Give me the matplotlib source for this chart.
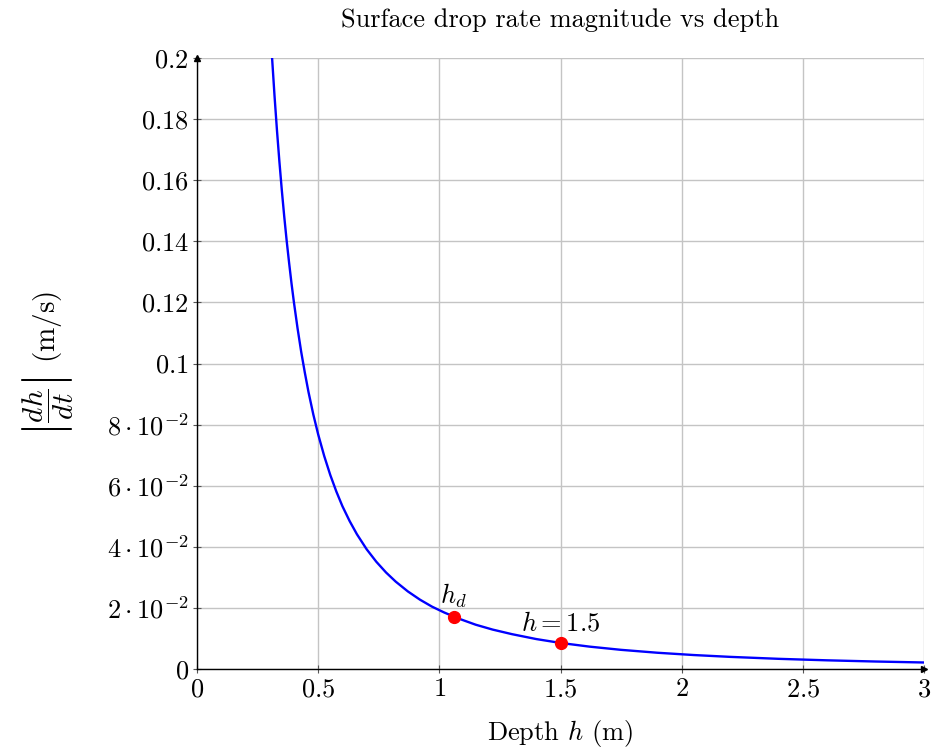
import matplotlib
matplotlib.use("Agg")
import matplotlib.pyplot as plt

plt.rcParams['font.family'] = 'serif'
plt.rcParams['font.serif'] = ['cmr10', 'DejaVu Serif']
plt.rcParams['mathtext.fontset'] = 'cm'
plt.rcParams['axes.unicode_minus'] = False

# curve readings (depth h, |dh/dt|)
depth = [0.300, 0.310, 0.320, 0.330, 0.340, 0.350, 0.360, 0.370, 0.380, 0.390,
         0.400, 0.415, 0.430, 0.445, 0.460, 0.480, 0.500, 0.525, 0.550, 0.575,
         0.600, 0.630, 0.660, 0.700, 0.740, 0.780, 0.820, 0.870, 0.920, 0.970,
         1.020, 1.080, 1.150, 1.220, 1.300, 1.400, 1.500, 1.620, 1.750, 1.900,
         2.050, 2.200, 2.400, 2.600, 2.800, 3.000]
rate = [0.2133, 0.1998, 0.1875, 0.1763, 0.1661, 0.1567, 0.1481, 0.1402,
        0.1330, 0.1262, 0.1200, 0.1115, 0.1038, 0.0970, 0.0907, 0.0833,
        0.0768, 0.0697, 0.0635, 0.0581, 0.0533, 0.0484, 0.0441, 0.0392,
        0.0351, 0.0316, 0.0286, 0.0254, 0.0227, 0.0204, 0.0185, 0.0165,
        0.0145, 0.0129, 0.0114, 0.0098, 0.00853, 0.00732, 0.00627, 0.00532,
        0.00457, 0.00397, 0.00333, 0.00284, 0.00245, 0.00213]

# marked points
mark_h = [1.06, 1.5]
mark_rate = [0.0170, 0.00853]
mark_labels = [r'$h_d$', r'$h = 1.5$']

xticks = [0, 0.5, 1, 1.5, 2, 2.5, 3]
xtick_labels = ['0', '0.5', '1', '1.5', '2', '2.5', '3']
yticks = [0, 0.02, 0.04, 0.06, 0.08, 0.1, 0.12, 0.14, 0.16, 0.18, 0.2]
ytick_labels = ['0', r'2\cdot10^{-2}', r'4\cdot10^{-2}', r'6\cdot10^{-2}', r'8\cdot10^{-2}',
                '0.1', '0.12', '0.14', '0.16', '0.18', '0.2']

FS = 19

fig = plt.figure(figsize=(9.31, 7.47), dpi=100)
ax = fig.add_axes([197/931, 78/747, 727/931, 611/747])

ax.plot(depth, rate, color='#0000ff', lw=1.7, clip_on=True, zorder=3)
ax.plot(mark_h, mark_rate, 'o', color='#ff0000', ms=8.5, zorder=4, clip_on=False)
for hx, ry, lab in zip(mark_h, mark_rate, mark_labels):
    ax.annotate(lab, (hx, ry), xytext=(0, 5), textcoords='offset points',
                ha='center', va='bottom', fontsize=FS)

ax.set_xlim(0, 3)
ax.set_ylim(0, 0.2)
ax.set_xticks(xticks)
ax.set_xticklabels(['$' + t + '$' for t in xtick_labels], fontsize=FS)
ax.set_yticks(yticks)
ax.set_yticklabels(['$' + t + '$' for t in ytick_labels], fontsize=FS)
ax.grid(True, color='#c4c4c4', lw=1)
ax.set_axisbelow(True)
ax.tick_params(direction='inout', length=6, width=0.8, color='#555555', pad=3)

for s in ['top', 'right']:
    ax.spines[s].set_visible(False)
for s in ['left', 'bottom']:
    ax.spines[s].set_linewidth(1.0)
ax.plot(1, 0, '>', color='black', ms=5, transform=ax.transAxes, clip_on=False)
ax.plot(0, 1, '^', color='black', ms=5, transform=ax.transAxes, clip_on=False)

ax.set_xlabel(r'Depth $h$ (m)', fontsize=FS, labelpad=12)
ax.set_ylabel(r'$\left|\dfrac{dh}{dt}\right|$ (m/s)', fontsize=21, labelpad=22)
ax.set_title('Surface drop rate magnitude vs depth', fontsize=FS, pad=22)

fig.savefig('out.png', dpi=100)
